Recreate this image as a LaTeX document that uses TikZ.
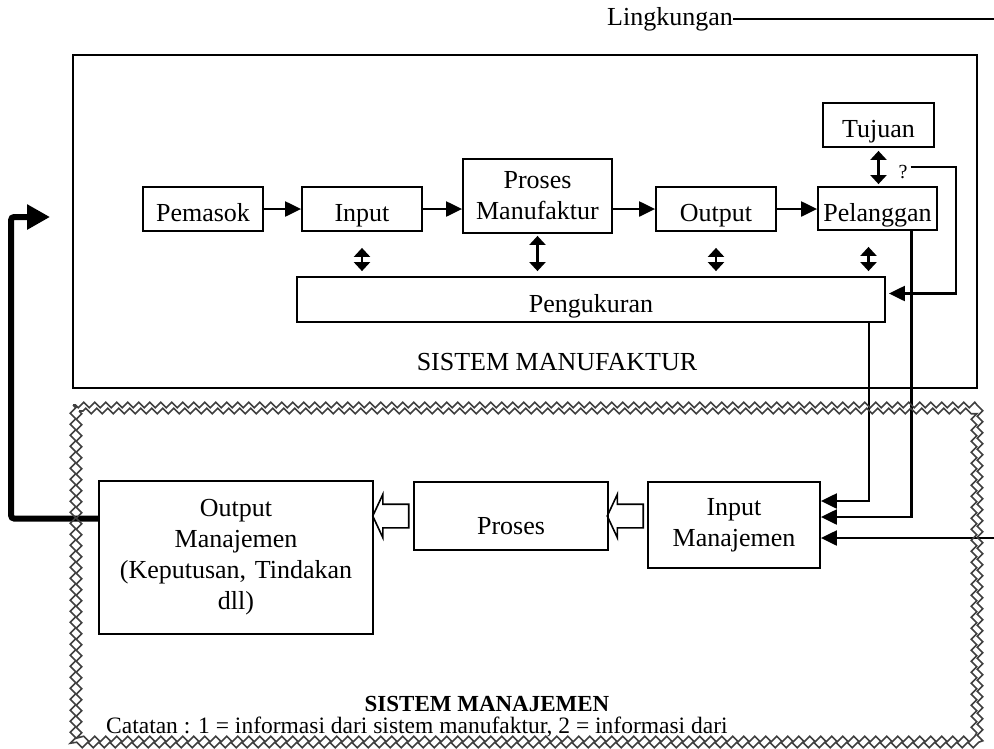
\documentclass[tikz,border=0pt]{standalone}
\usepackage{fontspec}
\setmainfont{Liberation Serif}
\usetikzlibrary{arrows.meta,positioning,calc,shapes.arrows,decorations.pathmorphing}
\newcommand{\boxfont}{\fontsize{26}{31}\selectfont}
\newcommand{\notefont}{\fontsize{23.5}{28}\selectfont}

\begin{document}
\begin{tikzpicture}[x=1pt,y=-1pt,
 box/.style={draw,line width=1.8,inner sep=0,align=center,font=\boxfont},
 low/.style={text height=#1,text depth=0},
 lbl/.style={inner sep=0,font=\boxfont},
 arr/.style={line width=2.2,-{Triangle[length=16pt,width=15pt]}},
 dbl/.style={line width=2.2,{Triangle[length=9pt,width=16pt]}-{Triangle[length=9pt,width=16pt]}},
 hollow/.style={single arrow,draw,line width=1.6,shape border rotate=180,inner xsep=0,inner ysep=11,
 minimum height=36,single arrow head extend=10,single arrow tip angle=130},
 wave/.style={decorate,decoration={zigzag,segment length=11,amplitude=2.8},line width=1.6,black!75}]
\useasboundingbox (0,0) rectangle (994,748);
% lingkungan
\node[lbl] (ling) at (670,19) {Lingkungan};
\coordinate (lingend) at (994,19);
\draw[line width=2.2] (ling.east) -- (lingend);
% sistem manufaktur
\node[draw,line width=1.6,minimum width=904,minimum height=333] (manuf) at (525,221.5) {};
\node[box,low=24,minimum width=120,minimum height=44] (pem) at (203,209) {Pemasok};
\node[box,low=24,minimum width=120,minimum height=44] (inp) at (362,209) {Input};
\node[box,minimum width=149,minimum height=74] (pm) at (537.5,196) {Proses\\Manufaktur};
\node[box,low=24,minimum width=120,minimum height=44] (outp) at (716,209) {Output};
\node[box,low=25,minimum width=119,minimum height=43] (pel) at (877.5,208.5) {Pelanggan};
\node[box,low=24,minimum width=111,minimum height=44] (tuj) at (878.5,125) {Tujuan};
\node[box,low=26,minimum width=588,minimum height=45] (peng) at (591,299.5) {Pengukuran};
\node[lbl] (smf) at (557,362) {SISTEM MANUFAKTUR};
\node[inner sep=0,font=\fontsize{20}{24}\selectfont] (q) at (903,172) {?};
\foreach \a/\b in {pem/inp,inp/pm,pm/outp,outp/pel}
 \draw[arr] (\a.east |- inp.east) -- (\b.west |- inp.east);
\foreach \n/\s in {inp/16,pm/2,outp/16}
 \draw[dbl,shorten <=\s,shorten >=5] (\n.south) -- (\n.south |- peng.north);
\draw[dbl,shorten <=16,shorten >=5] ([xshift=-9]pel.south) -- ([xshift=-9]pel.south |- peng.north);
\draw[dbl,shorten <=3,shorten >=2] (tuj.south) -- (tuj.south |- pel.north);
\draw[arr] ([xshift=3,yshift=5]q.east) -| ([xshift=70,yshift=6]peng.east) -- ([xshift=3,yshift=6]peng.east);
% sistem manajemen
\node[box,minimum width=274,minimum height=153,text width=262] (om) at (236,557.5) {Output\\Manajemen\\(Keputusan, Tindakan\\dll)};
\node[box,low=36,minimum width=194,minimum height=68] (pro) at (511,516) {Proses};
\node[box,minimum width=172,minimum height=86] (im) at (734,525) {Input\\Manajemen};
\node[hollow] (h1) at ($(pro.east)!.5!(im.west |- pro.east)$) {};
\node[hollow] (h2) at ($(om.east |- pro.west)!.5!(pro.west)$) {};
\draw[arr] ([xshift=278]peng.south) |- ([yshift=24]im.east);
\draw[arr] ([xshift=34]pel.south) |- ([yshift=8]im.east);
\coordinate (env) at (994,538);
\draw[arr] (env) -- (im.east |- env);
\coordinate (back) at (50,217);
\draw[line width=6,rounded corners=3,-{Triangle[length=23pt,width=24pt]}] ([yshift=39]om.west) -- ++(-87,0) |- (back);
\draw[wave] (73,405) rectangle (980,745);
\draw[wave] (79,411) rectangle (974,739);
\node[inner sep=0,font=\bfseries\fontsize{23}{28}\selectfont,anchor=base] (smj) at (487,711) {SISTEM MANAJEMEN};
\node[inner sep=0,font=\notefont,anchor=base west] (note) at (106,733) {Catatan : 1 = informasi dari sistem manufaktur, 2 = informasi dari};
\end{tikzpicture}
\end{document}
